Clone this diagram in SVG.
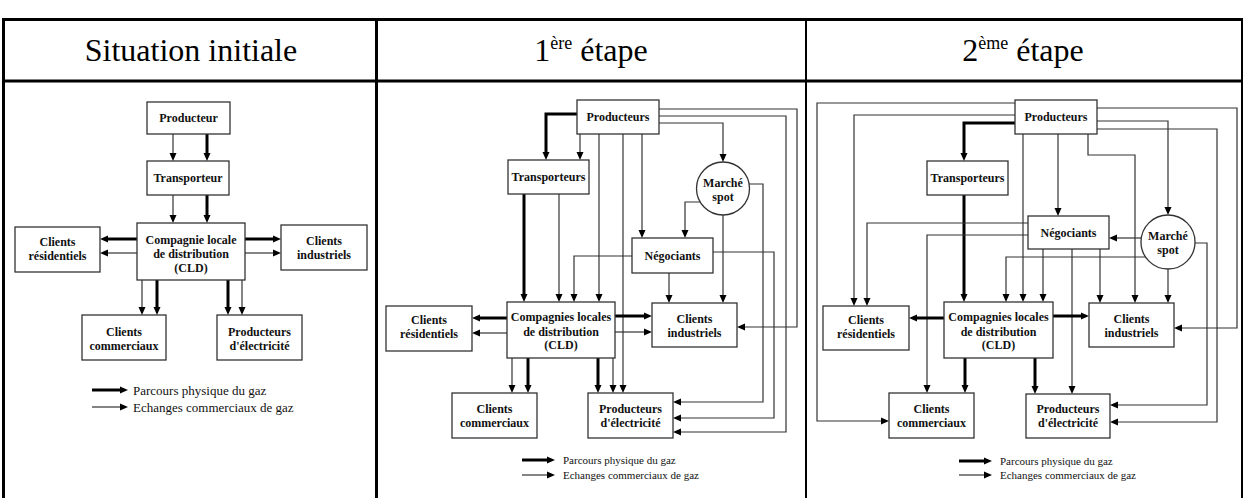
<svg xmlns="http://www.w3.org/2000/svg" width="1243" height="498" viewBox="0 0 1243 498">
<style>
.bx{fill:#fff;stroke:#333;stroke-width:1.3}
.n{font-family:"Liberation Serif","Times New Roman",serif;font-weight:bold;font-size:12px;text-anchor:middle;fill:#111}
.h{font-family:"Liberation Serif","Times New Roman",serif;font-size:32px;text-anchor:middle;fill:#000}
.sup{font-size:18px}
.lg1{font-family:"Liberation Serif","Times New Roman",serif;font-size:13px;fill:#111}
.lg{font-family:"Liberation Serif","Times New Roman",serif;font-size:11px;fill:#111}
.T{fill:none;stroke:#000;stroke-width:3;marker-end:url(#ah)}
.t{fill:none;stroke:#333;stroke-width:1.2;marker-end:url(#ah)}
.grid{stroke:#000;fill:none}
</style>
<defs>
<marker id="ah" markerUnits="userSpaceOnUse" markerWidth="9" markerHeight="8" viewBox="0 0 9 8" refX="2" refY="4" orient="auto"><path d="M0,0.5 L8,4 L0,7.5 Z" fill="#000"/></marker>
</defs>
<rect width="1243" height="498" fill="#fff"/>
<g id="table">
<path class="grid" stroke-width="3" d="M2,19.5 H1243 M3.5,18 V498 M2,81 H1243 M376.5,18 V498"/>
<path class="grid" stroke-width="2" d="M806,18 V498 M1242,18 V498"/>
<text class="h" x="191" y="61">Situation initiale</text>
<text class="h" x="591" y="61">1<tspan class="sup" dy="-12">ère</tspan><tspan dy="12"> étape</tspan></text>
<text class="h" x="1023" y="61">2<tspan class="sup" dy="-12">ème</tspan><tspan dy="12"> étape</tspan></text>
</g>
<g id="connectors">
<!-- panel 1 -->
<path class="t" d="M173,134 V155"/>
<path class="T" d="M207,134 V155"/>
<path class="t" d="M173,195 V217"/>
<path class="T" d="M207,195 V217"/>
<path class="T" d="M137,239 H106"/>
<path class="t" d="M137,253 H106"/>
<path class="T" d="M245,239 H275"/>
<path class="t" d="M245,253 H275"/>
<path class="t" d="M142,280 V309"/>
<path class="T" d="M157,280 V309"/>
<path class="T" d="M228,280 V309"/>
<path class="t" d="M242,280 V309"/>
<path class="T" d="M92,390 H122"/>
<path class="t" d="M92,407 H122"/>
<!-- panel 2 -->
<path class="T" d="M577,114 H546 V154"/>
<path class="t" d="M580,134 V154"/>
<path class="T" d="M524,194 V296"/>
<path class="t" d="M559,194 V296"/>
<path class="t" d="M632,256 H574 V296"/>
<path class="t" d="M599,134 V296"/>
<path class="t" d="M623,134 V387"/>
<path class="t" d="M642,134 V232"/>
<path class="t" d="M659,123 H723 V156"/>
<path class="t" d="M659,116 H786 V432 H679"/>
<path class="t" d="M659,109 H797 V327 H743"/>
<path class="t" d="M700,202 H685 V232"/>
<path class="t" d="M749,184 H763 V402 H679"/>
<path class="t" d="M723,215 V297"/>
<path class="t" d="M713,252 H774 V418 H679"/>
<path class="t" d="M669,273 V297"/>
<path class="T" d="M507,318 H478"/>
<path class="t" d="M507,333 H478"/>
<path class="T" d="M615,316 H646"/>
<path class="t" d="M615,332 H646"/>
<path class="t" d="M512,358 V387"/>
<path class="T" d="M528,358 V387"/>
<path class="T" d="M598,358 V387"/>
<path class="t" d="M613,358 V387"/>
<path class="T" d="M522,460 H549"/>
<path class="t" d="M522,475 H549"/>
<!-- panel 3 -->
<path class="t" d="M1015,103 H817 V421 H883"/>
<path class="t" d="M1015,115 H854 V300"/>
<path class="T" d="M1015,123 H964 V155"/>
<path class="T" d="M964,195 V296"/>
<path class="t" d="M1023,134 V296"/>
<path class="t" d="M1058,134 V210"/>
<path class="t" d="M1088,134 V155 H1135 V297"/>
<path class="t" d="M1097,108 H1237 V328 H1180"/>
<path class="t" d="M1097,121 H1168 V209"/>
<path class="t" d="M1097,129 H1217 V422 H1116"/>
<path class="t" d="M1141,238 H1115"/>
<path class="t" d="M1195,243 H1207 V405 H1116"/>
<path class="t" d="M1168,269 V297"/>
<path class="t" d="M1145.6,257 H1006 V296"/>
<path class="t" d="M1028,223 H867 V300"/>
<path class="t" d="M1028,235 H927 V387"/>
<path class="t" d="M1043,249 V296"/>
<path class="t" d="M1072,249 V388"/>
<path class="t" d="M1100,249 V297"/>
<path class="T" d="M944,318 H915"/>
<path class="T" d="M1053,316 H1083"/>
<path class="T" d="M965,358 V387"/>
<path class="T" d="M1035,358 V388"/>
<path class="T" d="M959,461 H986"/>
<path class="t" d="M959,475 H986"/>
</g>
<!-- panel 1 nodes -->
<g id="p1-producteur"><rect class="bx" x="147" y="102" width="83" height="32"/><text class="n" x="188.5" y="122">Producteur</text></g>
<g id="p1-transporteur"><rect class="bx" x="147" y="161" width="82" height="34"/><text class="n" x="188" y="182">Transporteur</text></g>
<g id="p1-cld"><rect class="bx" x="137" y="223" width="108" height="57"/><text class="n" x="191" y="244">Compagnie locale</text><text class="n" x="191" y="258">de distribution</text><text class="n" x="191" y="272">(CLD)</text></g>
<g id="p1-residentiels"><rect class="bx" x="15" y="227" width="85" height="45"/><text class="n" x="57.5" y="246">Clients</text><text class="n" x="57.5" y="260">résidentiels</text></g>
<g id="p1-industriels"><rect class="bx" x="281" y="225" width="86" height="45"/><text class="n" x="324" y="245">Clients</text><text class="n" x="324" y="259">industriels</text></g>
<g id="p1-commerciaux"><rect class="bx" x="82" y="315" width="84" height="45"/><text class="n" x="124" y="336">Clients</text><text class="n" x="124" y="350">commerciaux</text></g>
<g id="p1-electricite"><rect class="bx" x="217" y="315" width="85" height="45"/><text class="n" x="259.5" y="336">Producteurs</text><text class="n" x="259.5" y="350">d'électricité</text></g>
<g id="p1-legend"><text class="lg1" x="133" y="394.5">Parcours physique du gaz</text><text class="lg1" x="133" y="411.5">Echanges commerciaux de gaz</text></g>
<!-- panel 2 nodes -->
<g id="p2-producteurs"><rect class="bx" x="577" y="100" width="82" height="34"/><text class="n" x="618" y="121">Producteurs</text></g>
<g id="p2-transporteurs"><rect class="bx" x="508" y="160" width="81" height="34"/><text class="n" x="548.5" y="181">Transporteurs</text></g>
<g id="p2-marche"><circle class="bx" cx="723" cy="188.5" r="26.5"/><text class="n" x="723" y="187">Marché</text><text class="n" x="723" y="201">spot</text></g>
<g id="p2-negociants"><rect class="bx" x="632" y="238" width="81" height="35"/><text class="n" x="672.5" y="260">Négociants</text></g>
<g id="p2-cld"><rect class="bx" x="507" y="302" width="108" height="56"/><text class="n" x="561" y="321">Compagnies locales</text><text class="n" x="561" y="336">de distribution</text><text class="n" x="561" y="349">(CLD)</text></g>
<g id="p2-residentiels"><rect class="bx" x="386" y="306" width="86" height="45"/><text class="n" x="429" y="324">Clients</text><text class="n" x="429" y="338">résidentiels</text></g>
<g id="p2-industriels"><rect class="bx" x="652" y="303" width="85" height="44"/><text class="n" x="694.5" y="323">Clients</text><text class="n" x="694.5" y="337">industriels</text></g>
<g id="p2-commerciaux"><rect class="bx" x="452" y="393" width="85" height="45"/><text class="n" x="494.5" y="413">Clients</text><text class="n" x="494.5" y="427">commerciaux</text></g>
<g id="p2-electricite"><rect class="bx" x="588" y="393" width="85" height="45"/><text class="n" x="630.5" y="413">Producteurs</text><text class="n" x="630.5" y="427">d'électricité</text></g>
<g id="p2-legend"><text class="lg" x="563" y="464">Parcours physique du gaz</text><text class="lg" x="563" y="479">Echanges commerciaux de gaz</text></g>
<!-- panel 3 nodes -->
<g id="p3-producteurs"><rect class="bx" x="1015" y="100" width="82" height="34"/><text class="n" x="1056" y="121">Producteurs</text></g>
<g id="p3-transporteurs"><rect class="bx" x="927" y="161" width="81" height="34"/><text class="n" x="967.5" y="182">Transporteurs</text></g>
<g id="p3-negociants"><rect class="bx" x="1028" y="216" width="81" height="33"/><text class="n" x="1068.5" y="237">Négociants</text></g>
<g id="p3-marche"><circle class="bx" cx="1168" cy="242" r="27"/><text class="n" x="1168" y="240">Marché</text><text class="n" x="1168" y="254">spot</text></g>
<g id="p3-residentiels"><rect class="bx" x="823" y="306" width="86" height="44"/><text class="n" x="866" y="324">Clients</text><text class="n" x="866" y="338">résidentiels</text></g>
<g id="p3-cld"><rect class="bx" x="944" y="302" width="109" height="56"/><text class="n" x="998.5" y="321">Compagnies locales</text><text class="n" x="998.5" y="336">de distribution</text><text class="n" x="998.5" y="349">(CLD)</text></g>
<g id="p3-industriels"><rect class="bx" x="1089" y="303" width="85" height="44"/><text class="n" x="1131.5" y="323">Clients</text><text class="n" x="1131.5" y="337">industriels</text></g>
<g id="p3-commerciaux"><rect class="bx" x="889" y="393" width="85" height="45"/><text class="n" x="931.5" y="413">Clients</text><text class="n" x="931.5" y="427">commerciaux</text></g>
<g id="p3-electricite"><rect class="bx" x="1026" y="394" width="84" height="44"/><text class="n" x="1068" y="413">Producteurs</text><text class="n" x="1068" y="427">d'électricité</text></g>
<g id="p3-legend"><text class="lg" x="1000" y="465">Parcours physique du gaz</text><text class="lg" x="1000" y="479">Echanges commerciaux de gaz</text></g>
</svg>
